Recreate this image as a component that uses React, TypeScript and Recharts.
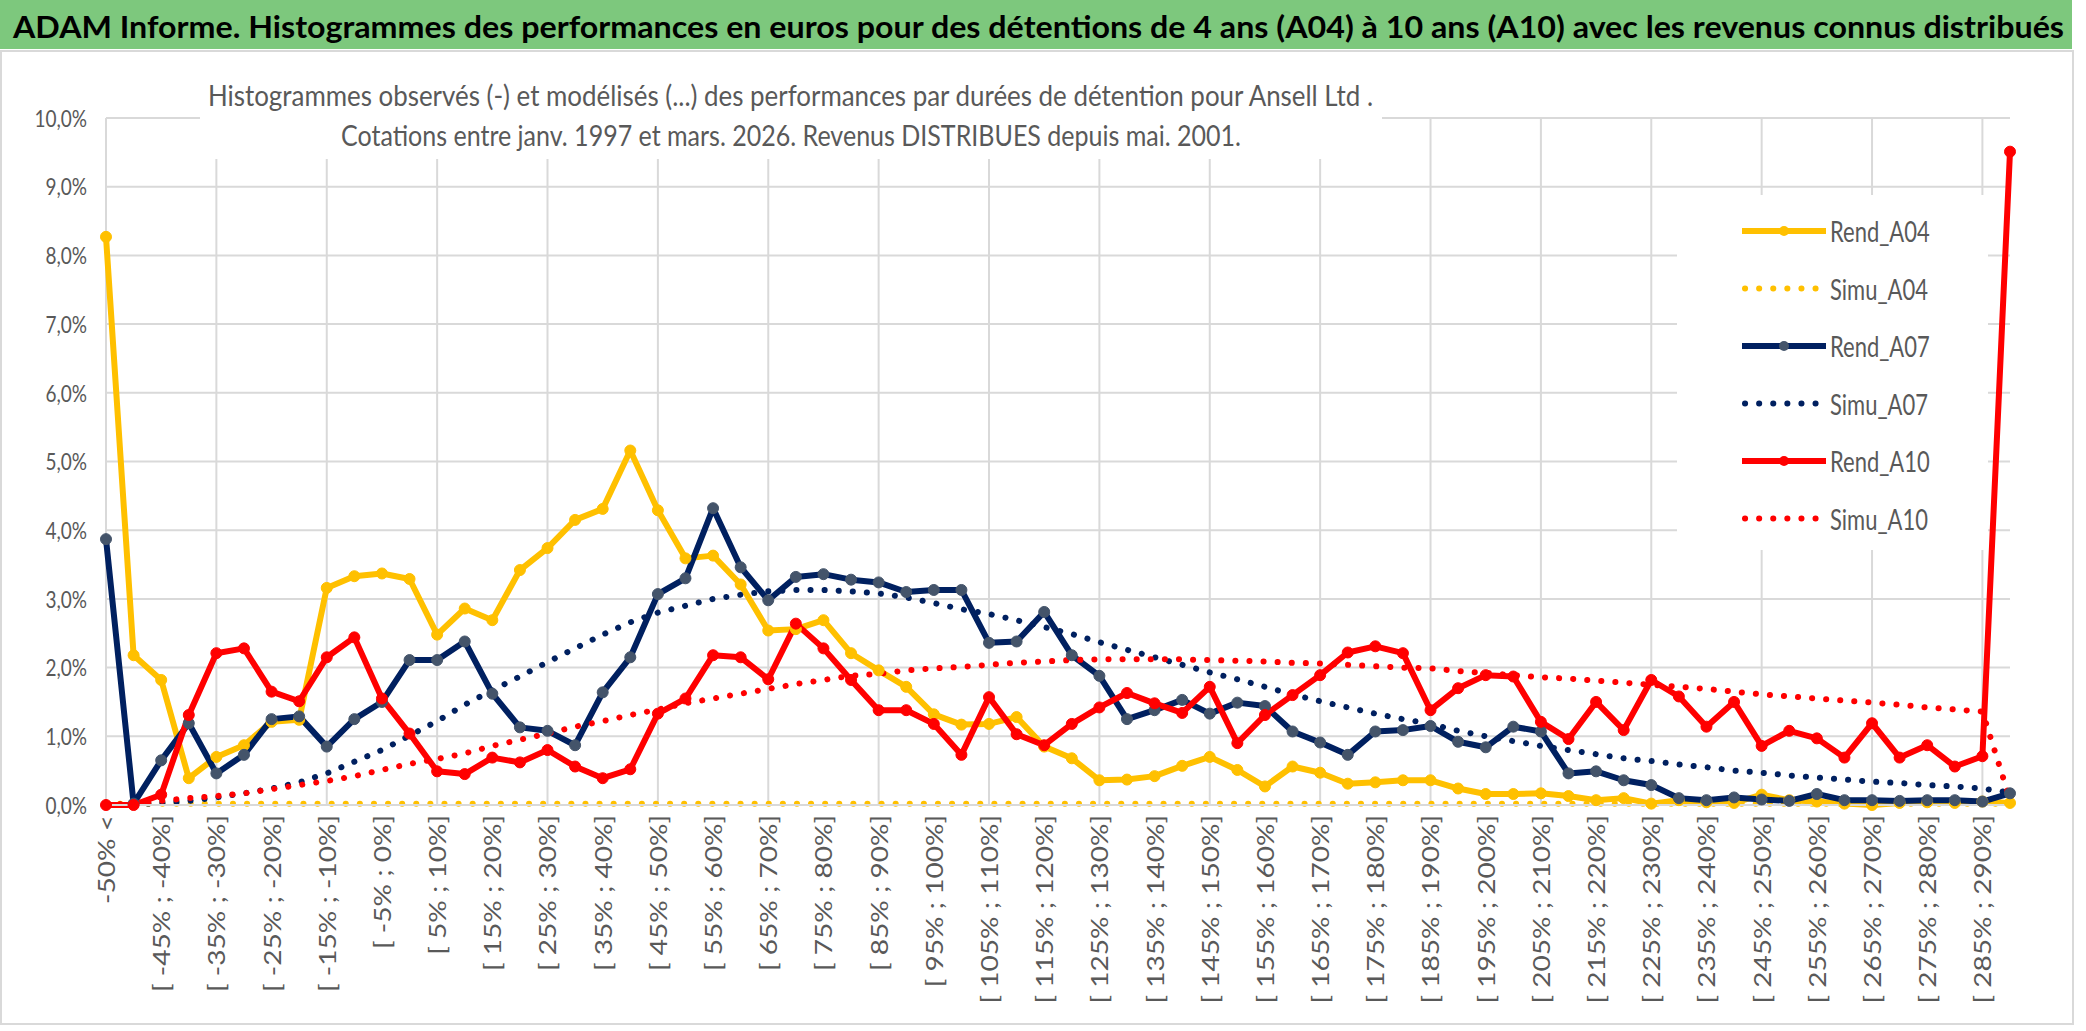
import React from 'react';
import { LineChart, Line, XAxis, YAxis, CartesianGrid } from 'recharts';

const categories = [
  '-50% <', '[ -50% ; -45%]', '[ -45% ; -40%]', '[ -40% ; -35%]', '[ -35% ; -30%]', '[ -30% ; -25%]',
  '[ -25% ; -20%]', '[ -20% ; -15%]', '[ -15% ; -10%]', '[ -10% ; -5%]', '[ -5% ; 0%]', '[ 0% ; 5%]',
  '[ 5% ; 10%]', '[ 10% ; 15%]', '[ 15% ; 20%]', '[ 20% ; 25%]', '[ 25% ; 30%]', '[ 30% ; 35%]',
  '[ 35% ; 40%]', '[ 40% ; 45%]', '[ 45% ; 50%]', '[ 50% ; 55%]', '[ 55% ; 60%]', '[ 60% ; 65%]',
  '[ 65% ; 70%]', '[ 70% ; 75%]', '[ 75% ; 80%]', '[ 80% ; 85%]', '[ 85% ; 90%]', '[ 90% ; 95%]',
  '[ 95% ; 100%]', '[ 100% ; 105%]', '[ 105% ; 110%]', '[ 110% ; 115%]', '[ 115% ; 120%]', '[ 120% ; 125%]',
  '[ 125% ; 130%]', '[ 130% ; 135%]', '[ 135% ; 140%]', '[ 140% ; 145%]', '[ 145% ; 150%]', '[ 150% ; 155%]',
  '[ 155% ; 160%]', '[ 160% ; 165%]', '[ 165% ; 170%]', '[ 170% ; 175%]', '[ 175% ; 180%]', '[ 180% ; 185%]',
  '[ 185% ; 190%]', '[ 190% ; 195%]', '[ 195% ; 200%]', '[ 200% ; 205%]', '[ 205% ; 210%]', '[ 210% ; 215%]',
  '[ 215% ; 220%]', '[ 220% ; 225%]', '[ 225% ; 230%]', '[ 230% ; 235%]', '[ 235% ; 240%]', '[ 240% ; 245%]',
  '[ 245% ; 250%]', '[ 250% ; 255%]', '[ 255% ; 260%]', '[ 260% ; 265%]', '[ 265% ; 270%]', '[ 270% ; 275%]',
  '[ 275% ; 280%]', '[ 280% ; 285%]', '[ 285% ; 290%]', '> 290%',
];

const rendA04 = [
  8.27, 2.18, 1.82, 0.39, 0.70, 0.87, 1.21, 1.24, 3.16, 3.33, 3.37, 3.29,
  2.48, 2.86, 2.69, 3.42, 3.74, 4.15, 4.31, 5.16, 4.29, 3.59, 3.63, 3.21,
  2.54, 2.56, 2.69, 2.21, 1.96, 1.72, 1.32, 1.17, 1.18, 1.28, 0.85, 0.68,
  0.36, 0.37, 0.42, 0.57, 0.70, 0.51, 0.27, 0.56, 0.47, 0.31, 0.33, 0.36,
  0.36, 0.24, 0.16, 0.16, 0.17, 0.13, 0.07, 0.10, 0.02, 0.07, 0.04, 0.03,
  0.15, 0.07, 0.05, 0.02, 0.00, 0.03, 0.04, 0.03, 0.05, 0.03,
];

const simuA04 = [
  0.02, 0.02, 0.02, 0.02, 0.02, 0.02, 0.02, 0.02, 0.02, 0.02, 0.02, 0.02,
  0.02, 0.02, 0.02, 0.02, 0.02, 0.02, 0.02, 0.02, 0.02, 0.02, 0.02, 0.02,
  0.02, 0.02, 0.02, 0.02, 0.02, 0.02, 0.02, 0.02, 0.02, 0.02, 0.02, 0.02,
  0.02, 0.02, 0.02, 0.02, 0.02, 0.02, 0.02, 0.02, 0.02, 0.02, 0.02, 0.02,
  0.02, 0.02, 0.02, 0.02, 0.02, 0.02, 0.02, 0.02, 0.02, 0.02, 0.02, 0.02,
  0.02, 0.02, 0.02, 0.02, 0.02, 0.02, 0.02, 0.02, 0.02, 0.02,
];

const rendA07 = [
  3.87, 0.02, 0.65, 1.19, 0.46, 0.73, 1.25, 1.29, 0.85, 1.25, 1.50, 2.11,
  2.11, 2.38, 1.62, 1.13, 1.08, 0.87, 1.64, 2.15, 3.07, 3.30, 4.32, 3.46,
  2.98, 3.32, 3.36, 3.28, 3.24, 3.10, 3.13, 3.13, 2.36, 2.38, 2.81, 2.18,
  1.88, 1.25, 1.38, 1.53, 1.33, 1.49, 1.44, 1.07, 0.91, 0.73, 1.07, 1.09,
  1.15, 0.92, 0.84, 1.14, 1.07, 0.46, 0.49, 0.36, 0.29, 0.10, 0.07, 0.11,
  0.08, 0.06, 0.16, 0.07, 0.07, 0.06, 0.07, 0.07, 0.05, 0.17,
];

const simuA07 = [
  0.00, 0.01, 0.03, 0.06, 0.11, 0.17, 0.24, 0.33, 0.46, 0.63, 0.80, 1.01,
  1.22, 1.46, 1.67, 1.87, 2.08, 2.28, 2.48, 2.66, 2.80, 2.90, 3.00, 3.06,
  3.11, 3.13, 3.13, 3.11, 3.08, 3.02, 2.94, 2.85, 2.78, 2.69, 2.59, 2.49,
  2.37, 2.26, 2.15, 2.04, 1.93, 1.83, 1.72, 1.61, 1.51, 1.42, 1.33, 1.25,
  1.18, 1.08, 1.00, 0.93, 0.86, 0.80, 0.74, 0.68, 0.64, 0.59, 0.55, 0.50,
  0.47, 0.43, 0.40, 0.37, 0.34, 0.32, 0.29, 0.27, 0.24, 0.18,
];

const rendA10 = [
  0.00, 0.00, 0.15, 1.31, 2.21, 2.28, 1.65, 1.51, 2.15, 2.44, 1.55, 1.04,
  0.49, 0.45, 0.69, 0.62, 0.80, 0.56, 0.39, 0.52, 1.33, 1.55, 2.18, 2.15,
  1.83, 2.64, 2.28, 1.82, 1.38, 1.38, 1.18, 0.73, 1.57, 1.03, 0.87, 1.18,
  1.42, 1.63, 1.48, 1.34, 1.72, 0.90, 1.31, 1.60, 1.89, 2.22, 2.31, 2.21,
  1.38, 1.70, 1.89, 1.87, 1.21, 0.96, 1.50, 1.09, 1.82, 1.58, 1.14, 1.50,
  0.86, 1.08, 0.97, 0.69, 1.19, 0.69, 0.87, 0.56, 0.71, 9.51,
];

const simuA10 = [
  0.00, 0.02, 0.06, 0.10, 0.13, 0.17, 0.23, 0.29, 0.35, 0.42, 0.51, 0.60,
  0.67, 0.75, 0.86, 0.95, 1.04, 1.14, 1.22, 1.31, 1.39, 1.48, 1.55, 1.62,
  1.69, 1.76, 1.82, 1.88, 1.91, 1.96, 1.99, 2.01, 2.04, 2.07, 2.09, 2.11,
  2.12, 2.12, 2.12, 2.12, 2.11, 2.10, 2.09, 2.07, 2.06, 2.04, 2.02, 2.00,
  1.99, 1.95, 1.92, 1.89, 1.86, 1.84, 1.81, 1.78, 1.75, 1.72, 1.69, 1.65,
  1.61, 1.58, 1.55, 1.52, 1.49, 1.46, 1.42, 1.39, 1.36, 0.08,
];

const yTicks = [0, 1, 2, 3, 4, 5, 6, 7, 8, 9, 10];

const titleText =
  'ADAM Informe. Histogrammes des performances en euros pour des détentions de 4 ans (A04) à 10 ans (A10) avec les revenus connus distribués';
const subtitle1 =
  'Histogrammes observés (-) et modélisés (...) des performances par durées de détention pour Ansell Ltd .';
const subtitle2 = 'Cotations entre janv. 1997 et mars. 2026. Revenus DISTRIBUES depuis mai. 2001.';

const series = [
  { key: 'Rend_A04', color: '#FFC000', marker: '#FFC000', dotted: false },
  { key: 'Simu_A04', color: '#FFC000', marker: '#FFC000', dotted: true },
  { key: 'Rend_A07', color: '#002060', marker: '#44546A', dotted: false },
  { key: 'Simu_A07', color: '#002060', marker: '#44546A', dotted: true },
  { key: 'Rend_A10', color: '#FF0000', marker: '#FF0000', dotted: false },
  { key: 'Simu_A10', color: '#FF0000', marker: '#FF0000', dotted: true },
];

const data = categories.map((cat, i) => ({
  cat,
  Rend_A04: rendA04[i],
  Simu_A04: simuA04[i],
  Rend_A07: rendA07[i],
  Simu_A07: simuA07[i],
  Rend_A10: rendA10[i],
  Simu_A10: simuA10[i],
}));

const FONT = 'Lato, "Open Sans", "DejaVu Sans", sans-serif';
const TXT = '#595959';
const GRID = '#d9d9d9';
const STRETCH = 1.22;

const fmtPct = (v: number) => v.toFixed(1).replace('.', ',') + '%';

const XTick = (props: any) => {
  const { x, y, payload } = props;
  return (
    <text
      x={0}
      y={0}
      transform={`translate(${x} ${y}) rotate(-90) scale(${STRETCH} 1)`}
      textAnchor="end"
      dominantBaseline="central"
      fontFamily={FONT}
      fontSize={23}
      fill={TXT}
    >
      {payload.value}
    </text>
  );
};

const YTick = (props: any) => {
  const { x, y, payload } = props;
  return (
    <text
      x={0}
      y={0}
      transform={`translate(${x} ${y}) scale(1 ${STRETCH})`}
      textAnchor="end"
      dominantBaseline="central"
      fontFamily={FONT}
      fontSize={19}
      fill={TXT}
    >
      {fmtPct(payload.value)}
    </text>
  );
};

const Legend = () => (
  <div
    style={{
      position: 'absolute',
      left: 1677,
      top: 195,
      width: 311,
      height: 355,
      background: '#fff',
    }}
  >
    <svg width={311} height={355}>
      {series.map((s, i) => {
        const cy = 36 + i * 57.5;
        return (
          <g key={s.key}>
            {s.dotted ? (
              <line
                x1={68}
                x2={146}
                y1={cy}
                y2={cy}
                stroke={s.color}
                strokeWidth={6}
                strokeDasharray="0.1 14"
                strokeLinecap="round"
              />
            ) : (
              <g>
                <line x1={65} x2={149} y1={cy} y2={cy} stroke={s.color} strokeWidth={6} />
                <circle cx={107} cy={cy} r={5} fill={s.marker} />
              </g>
            )}
            <text
              x={0}
              y={0}
              transform={`translate(153 ${cy}) scale(1 1.32)`}
              dominantBaseline="central"
              fontFamily={FONT}
              fontSize={22}
              fill={TXT}
            >
              {s.key}
            </text>
          </g>
        );
      })}
    </svg>
  </div>
);

export default function App() {
  return (
    <div style={{ position: 'absolute', left: 0, top: 0, width: 2086, height: 1031, background: '#fff', overflow: 'hidden' }}>
      <div
        style={{
          position: 'absolute',
          left: 0,
          top: 50,
          width: 2074,
          height: 975,
          border: `2px solid ${GRID}`,
          boxSizing: 'border-box',
        }}
      />
      <div style={{ position: 'absolute', left: 0, top: 0 }}>
        <LineChart width={2086} height={1031} data={data} margin={{ top: 118, right: 76, bottom: 0, left: 0 }}>
          <CartesianGrid stroke={GRID} strokeWidth={2} xAxisId="grid" syncWithTicks />
          <XAxis
            dataKey="cat"
            interval={1}
            tick={<XTick />}
            tickLine={false}
            tickSize={0}
            tickMargin={10}
            axisLine={{ stroke: GRID, strokeWidth: 2 }}
            height={226}
          />
          <XAxis xAxisId="grid" dataKey="cat" interval={3} hide />
          <YAxis
            domain={[0, 10]}
            ticks={yTicks}
            width={106}
            axisLine={false}
            tickLine={false}
            tickSize={0}
            tickMargin={19}
            tick={<YTick />}
          />
          {series.map((s) =>
            s.dotted ? (
              <Line
                key={s.key}
                type="linear"
                dataKey={s.key}
                stroke={s.color}
                strokeWidth={6}
                strokeDasharray="0.1 14"
                strokeLinecap="round"
                dot={false}
                activeDot={false}
                isAnimationActive={false}
              />
            ) : (
              <Line
                key={s.key}
                type="linear"
                dataKey={s.key}
                stroke={s.color}
                strokeWidth={6}
                strokeLinejoin="round"
                dot={{ r: 5.5, fill: s.marker, stroke: s.marker, strokeWidth: 1 }}
                activeDot={false}
                isAnimationActive={false}
              />
            )
          )}
        </LineChart>
      </div>
      <div style={{ position: 'absolute', left: 0, top: 0, width: 2072, height: 49, background: '#7DC87D' }}>
        <svg width={2072} height={49}>
          <text
            x={0}
            y={0}
            transform="translate(13 38) scale(1 1.12)"
            textLength={2051}
            lengthAdjust="spacingAndGlyphs"
            fontFamily={FONT}
            fontWeight={700}
            fontSize={27}
            fill="#000"
          >
            {titleText}
          </text>
        </svg>
      </div>
      <div style={{ position: 'absolute', left: 200, top: 62, width: 1182, height: 97, background: '#fff' }}>
        <svg width={1182} height={97}>
          <text
            x={0}
            y={0}
            transform="translate(8 44) scale(1 1.14)"
            textLength={1165}
            lengthAdjust="spacingAndGlyphs"
            fontFamily={FONT}
            fontSize={25}
            fill={TXT}
          >
            {subtitle1}
          </text>
          <text
            x={0}
            y={0}
            transform="translate(141 84) scale(1 1.14)"
            textLength={900}
            lengthAdjust="spacingAndGlyphs"
            fontFamily={FONT}
            fontSize={25}
            fill={TXT}
          >
            {subtitle2}
          </text>
        </svg>
      </div>
      <Legend />
    </div>
  );
}
